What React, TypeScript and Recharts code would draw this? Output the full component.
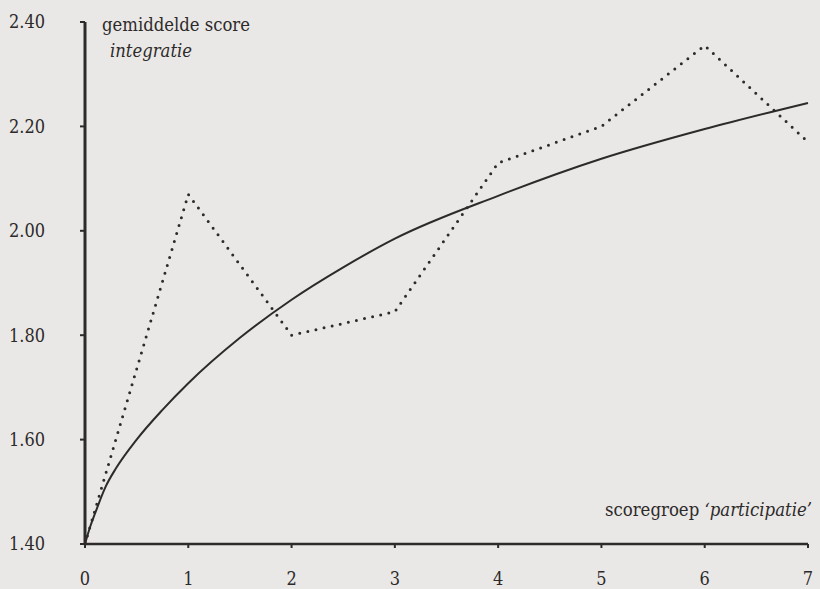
import { LineChart, Line, XAxis, YAxis } from 'recharts';

// gemiddelde score 'integratie' per scoregroep 'participatie'
const groepen = [0, 1, 2, 3, 4, 5, 6, 7];
const gemetenScores = [1.4, 2.07, 1.8, 1.845, 2.13, 2.2, 2.355, 2.17];

const curveGroepen = [0, 0.05, 0.1, 0.2, 0.3, 0.5, 0.75, 1, 1.5, 2, 2.5, 3, 4, 5, 6, 7];
const curveScores = [1.4, 1.433, 1.46, 1.51, 1.545, 1.6, 1.657, 1.708, 1.795, 1.868, 1.93, 1.985, 2.067, 2.138, 2.195, 2.245];

const yTicks = [1.4, 1.6, 1.8, 2.0, 2.2, 2.4];
const xTicks = [0, 1, 2, 3, 4, 5, 6, 7];

const gemeten = groepen.map((x, i) => ({ x, score: gemetenScores[i] }));
const curve = curveGroepen.map((x, i) => ({ x, score: curveScores[i] }));

const ink = '#2e2a2a';
const font = 'DejaVu Serif Condensed, DejaVu Serif, serif';

export default function App() {
  return (
    <div style={{ position: 'relative', width: 820, height: 589, background: '#e9e8e6', fontFamily: font }}>
      <style>{`body { margin: 0; }`}</style>
      <LineChart width={820} height={589} margin={{ top: 22, right: 12, bottom: 0, left: 0 }}>
        <XAxis
          type="number"
          dataKey="x"
          domain={[0, 7]}
          ticks={xTicks}
          height={45}
          tickSize={4}
          tickMargin={24}
          axisLine={{ stroke: ink, strokeWidth: 2.5 }}
          tickLine={{ stroke: ink, strokeWidth: 2 }}
          tick={{ fill: ink, fontSize: 18, fontFamily: font }}
        />
        <YAxis
          type="number"
          domain={[1.4, 2.4]}
          ticks={yTicks}
          width={85}
          tickSize={5}
          tickMargin={35}
          tickFormatter={(v: number) => v.toFixed(2)}
          axisLine={{ stroke: ink, strokeWidth: 3 }}
          tickLine={{ stroke: ink, strokeWidth: 2 }}
          tick={{ fill: ink, fontSize: 18, fontFamily: font }}
        />
        <Line
          data={curve}
          dataKey="score"
          type="monotone"
          stroke={ink}
          strokeWidth={2}
          dot={false}
          activeDot={false}
          isAnimationActive={false}
        />
        <Line
          data={gemeten}
          dataKey="score"
          type="linear"
          stroke={ink}
          strokeWidth={3}
          strokeDasharray="0 8.3"
          strokeLinecap="round"
          dot={false}
          activeDot={false}
          isAnimationActive={false}
        />
      </LineChart>
      <svg
        width={820}
        height={589}
        style={{ position: 'absolute', left: 0, top: 0, pointerEvents: 'none' }}
      >
        <g fill={ink} fontFamily={font} fontSize={19}>
          <text x={102} y={31} textLength={148} lengthAdjust="spacingAndGlyphs">gemiddelde score</text>
          <text x={110} y={57} fontStyle="italic" textLength={82} lengthAdjust="spacingAndGlyphs">integratie</text>
          <text x={605} y={516} textLength={207} lengthAdjust="spacingAndGlyphs">
            scoregroep <tspan fontStyle="italic">‘participatie’</tspan>
          </text>
        </g>
      </svg>
    </div>
  );
}
